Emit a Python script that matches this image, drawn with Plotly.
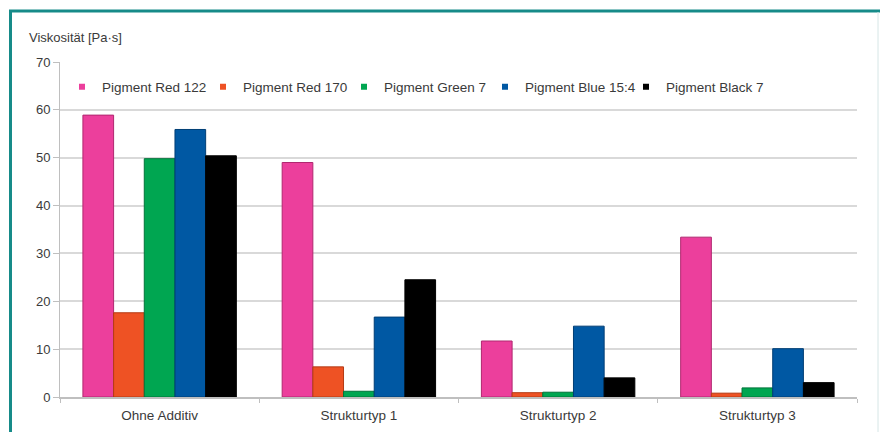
import plotly.graph_objects as go

# Viscosity [Pa·s] of pigment dispersions without and with additive structure types
categories = ["Ohne Additiv", "Strukturtyp 1", "Strukturtyp 2", "Strukturtyp 3"]
series_names = ["Pigment Red 122", "Pigment Red 170", "Pigment Green 7",
                "Pigment Blue 15:4", "Pigment Black 7"]
red_122 = [58.9, 49.0, 11.7, 33.4]
red_170 = [17.6, 6.3, 0.9, 0.8]
green_7 = [49.8, 1.2, 1.0, 1.9]
blue_15_4 = [55.9, 16.7, 14.8, 10.1]
black_7 = [50.4, 24.5, 4.0, 3.0]
y_ticks = [0, 10, 20, 30, 40, 50, 60, 70]

colors = ["#EC3F9C", "#EE5224", "#00A651", "#0058A3", "#000000"]
edge_colors = ["#B02870", "#B53A14", "#00743A", "#003E75", "#000000"]
values = [red_122, red_170, green_7, blue_15_4, black_7]

W, H = 880, 432
ML, MR, MT, MB = 60, 23, 62, 35
FONT = "Liberation Sans, Arial, sans-serif"
TEXT = "#3a3a3a"

fig = go.Figure()
for name, vals, col, edge in zip(series_names, values, colors, edge_colors):
    fig.add_trace(go.Bar(
        x=categories, y=vals, name=name, showlegend=False,
        marker=dict(color=col, line=dict(color=edge, width=1)),
    ))
# small square legend markers
for name, col in zip(series_names, colors):
    fig.add_trace(go.Scatter(
        x=[None], y=[None], mode="markers", name=name,
        marker=dict(symbol="square", size=6, color=col),
    ))

pw = W - ML - MR
ph = H - MT - MB


def px_x(px):
    return (px - ML) / pw


def px_y(py):
    return (H - MB - py) / ph


# frame: teal rules on the left and top, faint rule on the right
fig.add_shape(type="line", xref="paper", yref="paper",
              x0=px_x(10.5), x1=px_x(10.5), y0=px_y(11), y1=px_y(440),
              line=dict(color="#168B89", width=3))
fig.add_shape(type="line", xref="paper", yref="paper",
              x0=px_x(9), x1=px_x(880), y0=px_y(11), y1=px_y(11),
              line=dict(color="#168B89", width=3))
fig.add_shape(type="line", xref="paper", yref="paper",
              x0=px_x(878), x1=px_x(878), y0=px_y(12), y1=px_y(440),
              line=dict(color="#D6E6E6", width=1))

fig.add_annotation(
    text="Viskosität [Pa·s]", xref="paper", yref="paper",
    x=px_x(27), y=px_y(37), xanchor="left", yanchor="middle",
    showarrow=False, font=dict(family=FONT, size=13, color=TEXT),
)

fig.update_layout(
    width=W, height=H,
    margin=dict(l=ML, r=MR, t=MT, b=MB),
    paper_bgcolor="white", plot_bgcolor="white",
    barmode="group", bargap=0.23, bargroupgap=0,
    font=dict(family=FONT, size=13, color=TEXT),
    legend=dict(
        orientation="h", x=px_x(62), y=px_y(87),
        xanchor="left", yanchor="middle",
        entrywidth=96, entrywidthmode="pixels",
        font=dict(family=FONT, size=13.5, color=TEXT),
        bgcolor="rgba(0,0,0,0)", itemwidth=30, tracegroupgap=0,
    ),
    xaxis=dict(
        showgrid=False, showline=True, linecolor="#BFBFBF", linewidth=2,
        ticks="outside", tickson="boundaries", ticklen=4,
        tickcolor="#BFBFBF", tickwidth=1, ticklabelstandoff=5,
        automargin=False,
        tickfont=dict(family=FONT, size=13.5, color=TEXT),
    ),
    yaxis=dict(
        range=[0, 70], tickvals=y_ticks,
        showgrid=True, gridcolor="#D9D9D9", gridwidth=2,
        showline=True, linecolor="#BFBFBF", linewidth=1,
        ticks="outside", ticklen=6, tickcolor="#BFBFBF",
        zeroline=False, automargin=False,
        tickfont=dict(family=FONT, size=13, color=TEXT),
    ),
)

fig.write_html("out.html")
